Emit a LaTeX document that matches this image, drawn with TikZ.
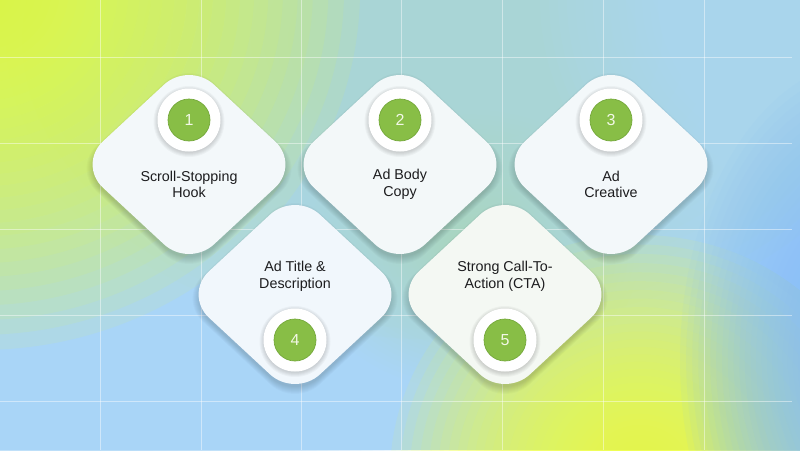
\documentclass[tikz,border=0pt]{standalone}
\usepackage{fontspec}
\setmainfont{Liberation Sans}
\usetikzlibrary{shapes.geometric}

\definecolor{bgblue}{HTML}{A9D5F7}
\definecolor{bgteal}{HTML}{B3DFD6}
\definecolor{bglight}{HTML}{A9D7FA}
\definecolor{bgyellow}{HTML}{E4FF44}
\definecolor{bgyellow2}{HTML}{EEFF48}
\definecolor{bgdeep}{HTML}{8AC1F7}
\definecolor{bggreen}{HTML}{C4E9C2}
\definecolor{badgegreen}{HTML}{88BE46}
\definecolor{badgeedge}{HTML}{74A83A}
\definecolor{textdark}{HTML}{1C1C1E}
\definecolor{numwhite}{HTML}{F2F8E6}
\definecolor{cardA}{HTML}{F3F8FA}
\definecolor{cardB}{HTML}{F3F8F9}
\definecolor{cardC}{HTML}{F1F7FC}
\definecolor{cardD}{HTML}{F4F8F3}

% soft radial blob: x, y, rx, ry, colour, opacity per layer, radius exponent
\newcommand\bgblob[7]{%
  \foreach \k in {1,...,40}{%
    \pgfmathsetmacro\fr{(\k/40)^#7}%
    \fill[#5, opacity=#6] (#1,#2) ellipse ({#3*\fr} and {#4*\fr});}}
% soft shadow of a card centred at x, y
\newcommand\cardshadow[2]{%
  \foreach \s in {0,...,7}{%
    \fill[black, opacity=0.018, rounded corners=34pt]
      (#1-110-\s,#2+4) -- (#1,#2+4-102-\s) -- (#1+110+\s,#2+4) -- (#1,#2+4+102+\s) -- cycle;}}
% soft shadow of a ring centred at x, y
\newcommand\ringshadow[2]{%
  \foreach \s in {0,...,4}{%
    \fill[black, opacity=0.03] (#1,#2+1.5) circle (31.5+\s);}}

\begin{document}
\begin{tikzpicture}[x=1pt,y=-1pt,
  card/.style={diamond, minimum width=222pt, minimum height=206pt, inner sep=0pt, outer sep=0pt,
    rounded corners=34pt},
  ring/.style={circle, fill=white, minimum size=63pt, inner sep=0pt},
  badge/.style={circle, fill=badgegreen, draw=badgeedge, line width=0.7pt, minimum size=42pt, inner sep=0pt,
    text=numwhite, font=\fontsize{16}{16}\selectfont},
  cardtext/.style={align=center, text=textdark, font=\fontsize{14.3}{16.5}\selectfont, inner sep=0pt},
  gridline/.style={white, opacity=0.45, line width=0.8pt}
]
\useasboundingbox (0,0) rectangle (800,450);

% ---------- background ----------
\begin{scope}
\clip (0,0) rectangle (800,450);
\fill[bgblue] (0,0) rectangle (800,450);
\bgblob{450}{40}{460}{300}{bgteal}{0.07}{1.4}
\bgblob{110}{410}{340}{210}{bgblue}{0.06}{1.4}
\bgblob{800}{0}{260}{250}{bglight}{0.07}{1.4}
\bgblob{-20}{-10}{380}{360}{bgyellow}{0.085}{1.7}
\bgblob{470}{250}{170}{140}{bggreen}{0.03}{1.4}
\bgblob{640}{475}{250}{240}{bgyellow2}{0.09}{1.6}
\bgblob{870}{360}{190}{300}{bgdeep}{0.075}{1.3}
\end{scope}

% ---------- grid ----------
\foreach \gx in {100,201,301,401,502,603,704}
  \draw[gridline] (\gx,0) -- (\gx,450);
\foreach \gy in {57,143,229,315,401}
  \draw[gridline] (0,\gy) -- (792,\gy);

% ---------- cards ----------
\cardshadow{189}{164.5}
\node[card, fill=cardA] (d1) at (189,164.5) {};
\cardshadow{400}{164.5}
\node[card, fill=cardB] (d2) at (400,164.5) {};
\cardshadow{611}{164.5}
\node[card, fill=cardA] (d3) at (611,164.5) {};
\cardshadow{295}{294.5}
\node[card, fill=cardC] (d4) at (295,294.5) {};
\cardshadow{505}{294.5}
\node[card, fill=cardD] (d5) at (505,294.5) {};

% rings and badges
\ringshadow{189}{120}
\node[ring] (r1) at (189,120) {};
\node[badge] (g1) at (r1) {1};
\ringshadow{400}{120}
\node[ring] (r2) at (400,120) {};
\node[badge] (g2) at (r2) {2};
\ringshadow{611}{120}
\node[ring] (r3) at (611,120) {};
\node[badge] (g3) at (r3) {3};
\ringshadow{295}{340}
\node[ring] (r4) at (295,340) {};
\node[badge] (g4) at (r4) {4};
\ringshadow{505}{340}
\node[ring] (r5) at (505,340) {};
\node[badge] (g5) at (r5) {5};

% texts
\node[cardtext] (t1) at (189,184.5) {Scroll-Stopping\\Hook};
\node[cardtext] (t2) at (400,184.5) {Ad Body\\Copy};
\node[cardtext] (t3) at (611,184.5) {Ad\\Creative};
\node[cardtext] (t4) at (295,276.5) {Ad Title \&\\Description};
\node[cardtext] (t5) at (505,276.5) {Strong Call-To-\\Action (CTA)};
\end{tikzpicture}
\end{document}
